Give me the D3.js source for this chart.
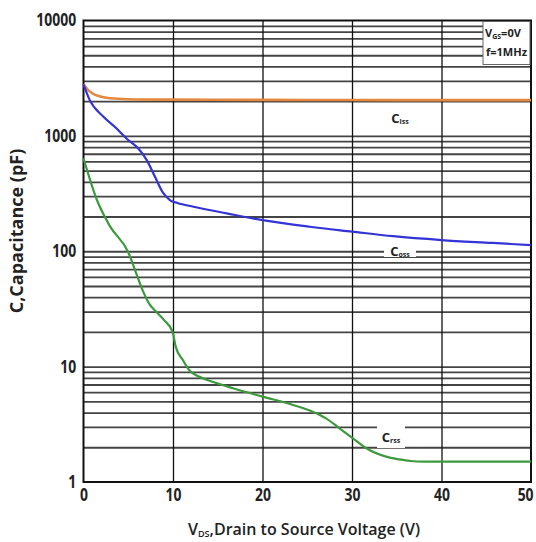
<!DOCTYPE html>
<html>
<head>
<meta charset="utf-8">
<script src="https://cdn.jsdelivr.net/npm/d3@7"></script>
<style>
  body { margin: 0; background: #fff; }
  svg { display: block; font-family: "Open Sans", "DejaVu Sans", sans-serif; }
</style>
</head>
<body>
<div id="chart"></div>
<script>
// values
const cissV = [0, 0.5, 1, 2, 3, 5, 10, 20, 30, 40, 50];
const cissC = [2800, 2500, 2330, 2180, 2120, 2080, 2060, 2050, 2045, 2040, 2040];

const cossV = [0, 0.7, 2.2, 3.7, 4.8, 6.1, 7.05, 8.0, 8.9, 9.65, 10.5, 12.3, 16, 20, 25.3, 30, 34.6, 40, 45.7, 50];
const cossC = [2800, 2040, 1470, 1160, 950, 780, 620, 440, 320, 278, 262, 243, 213, 186, 163, 148, 135, 125, 118, 113];

const crssV = [0, 1.5, 2.95, 5.0, 5.9, 6.6, 7.35, 8.1, 9.0, 9.95, 10.3, 11.1, 11.8, 12.9, 14.4, 16.7, 20, 23.4, 25.6, 27.1, 28.6, 30.1, 31.6, 33.8, 35.3, 36.5, 38, 40, 45, 50];
const crssC = [640, 278, 165, 98, 64, 46, 35, 30, 25.3, 20.1, 14.9, 11.4, 9.35, 8.2, 7.4, 6.5, 5.5, 4.65, 4.07, 3.56, 2.92, 2.39, 1.96, 1.66, 1.57, 1.52, 1.5, 1.5, 1.5, 1.5];

const xTicks = [0, 10, 20, 30, 40, 50];
const yTicks = [1, 10, 100, 1000, 10000];

const width = 536;
const height = 542;
const mLeft = 83.5, mRight = 531, mTop = 20.5, mBottom = 482;

const svg = d3.select("#chart").append("svg")
  .attr("width", width)
  .attr("height", height);

const x = d3.scaleLinear().domain([0, 50]).range([mLeft, mRight]);
const y = d3.scaleLog().domain([1, 10000]).range([mBottom, mTop]);

// horizontal grid (1..9 per decade)
const gridVals = y.ticks().filter(d => d > 1 && d < 10000);
svg.append("g")
  .attr("transform", `translate(${mLeft},0)`)
  .call(d3.axisLeft(y).tickValues(gridVals).tickSize(-(mRight - mLeft)).tickFormat(""))
  .call(g => g.select(".domain").remove())
  .call(g => g.selectAll("line").attr("stroke", "#444").attr("stroke-width", 1.8));

// vertical grid
svg.append("g")
  .attr("transform", `translate(0,${mTop})`)
  .call(d3.axisBottom(x).tickValues([10, 20, 30, 40]).tickSize(mBottom - mTop).tickFormat(""))
  .call(g => g.select(".domain").remove())
  .call(g => g.selectAll("line").attr("stroke", "#111").attr("stroke-width", 1.3));

// frame
svg.append("rect")
  .attr("x", mLeft).attr("y", mTop)
  .attr("width", mRight - mLeft).attr("height", mBottom - mTop)
  .attr("fill", "none").attr("stroke", "#111").attr("stroke-width", 2);

// label backgrounds over the grid
function curveLabel(cx, cy, sub, w, h) {
  svg.append("rect")
    .attr("x", cx - w / 2).attr("y", cy - h / 2)
    .attr("width", w).attr("height", h)
    .attr("fill", "#fff");
  const t = svg.append("text")
    .attr("x", cx).attr("y", cy + 5)
    .attr("text-anchor", "middle")
    .attr("font-weight", 700)
    .attr("font-size", 13)
    .attr("fill", "#222");
  t.append("tspan").text("C");
  t.append("tspan").attr("font-size", 7).attr("dy", 1).text(sub);
}
curveLabel(400, 118, "iss", 24, 16);
curveLabel(400, 251, "oss", 32, 12);
curveLabel(391, 437, "rss", 28, 22);

// conditions box
svg.append("rect")
  .attr("x", 483).attr("y", mTop + 1)
  .attr("width", mRight - 483 - 1).attr("height", 43)
  .attr("fill", "#fff").attr("stroke", "#666").attr("stroke-width", 1);
const cond1 = svg.append("text")
  .attr("x", 485).attr("y", 37)
  .attr("font-size", 11).attr("font-weight", 700).attr("fill", "#222");
cond1.append("tspan").text("V");
cond1.append("tspan").attr("font-size", 7).attr("dy", 2).text("GS");
cond1.append("tspan").attr("dy", -2).text("=0V");
svg.append("text")
  .attr("x", 486).attr("y", 56)
  .attr("font-size", 11).attr("font-weight", 700).attr("fill", "#222")
  .text("f=1MHz");

// curves
const line = d3.line()
  .x(d => x(d[0]))
  .y(d => y(d[1]))
  .curve(d3.curveMonotoneX);

const series = [
  { v: cissV, c: cissC, color: "#e3883e", w: 2.6 },
  { v: cossV, c: cossC, color: "#3333d6", w: 2.2 },
  { v: crssV, c: crssC, color: "#3c9a3c", w: 2.2 }
];
series.forEach(s => {
  svg.append("path")
    .datum(s.v.map((v, i) => [v, s.c[i]]))
    .attr("fill", "none")
    .attr("stroke", s.color)
    .attr("stroke-width", s.w)
    .attr("d", line);
});

// tick labels
svg.append("g")
  .attr("transform", `translate(${mLeft},0)`)
  .call(d3.axisLeft(y).tickValues(yTicks).tickSize(0).tickPadding(9).tickFormat(d3.format("d")))
  .call(g => g.select(".domain").remove())
  .call(g => g.selectAll("text")
    .attr("font-size", 17).attr("font-weight", 700).attr("fill", "#222")
    .attr("font-family", "'Open Sans', sans-serif")
    .attr("transform", "scale(0.82,1)"));

svg.append("g")
  .attr("transform", `translate(0,${mBottom})`)
  .call(d3.axisBottom(x).tickValues(xTicks).tickSize(0).tickPadding(7).tickFormat(d3.format("d")))
  .call(g => g.select(".domain").remove())
  .call(g => g.selectAll("text")
    .attr("font-size", 17).attr("font-weight", 700).attr("fill", "#222")
    .attr("font-family", "'Open Sans', sans-serif")
    .attr("transform", "scale(0.82,1)"))
  .call(g => g.selectAll(".tick").filter(d => d === 50).select("text").attr("text-anchor", "end").attr("x", 2.5));

// axis titles
svg.append("text")
  .attr("transform", "translate(23,231) rotate(-90)")
  .attr("text-anchor", "middle")
  .attr("font-size", 18).attr("font-weight", 700).attr("fill", "#222")
  .text("C,Capacitance (pF)");

const xt = svg.append("text")
  .attr("x", 304).attr("y", 535)
  .attr("text-anchor", "middle")
  .attr("font-size", 16).attr("font-weight", 600).attr("fill", "#222");
xt.append("tspan").text("V");
xt.append("tspan").attr("font-size", 9).attr("dy", 2).text("DS");
xt.append("tspan").attr("dy", -2).text(",Drain to Source Voltage (V)");
</script>
</body>
</html>
